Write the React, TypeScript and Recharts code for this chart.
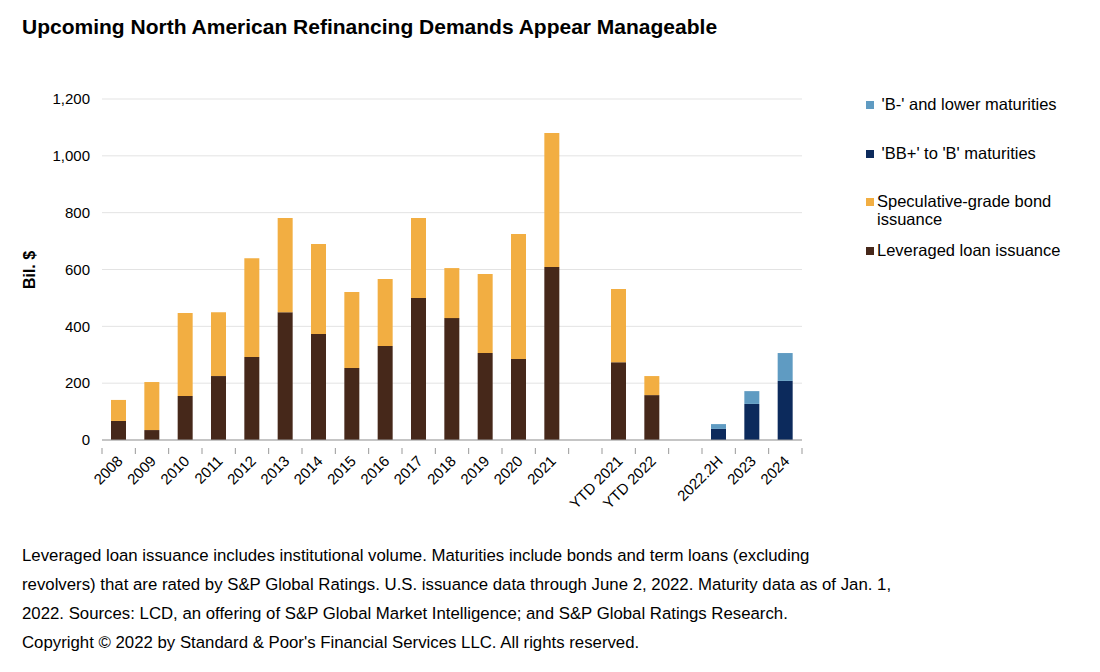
import React from 'react';
import { BarChart, Bar, XAxis, YAxis, CartesianGrid } from 'recharts';

const categories = ['2008','2009','2010','2011','2012','2013','2014','2015','2016','2017','2018','2019','2020','2021',' ','YTD 2021','YTD 2022','  ','2022.2H','2023','2024'];
const loanIssuance = [67,35,155,225,292,450,373,253,331,500,429,306,285,609,null,274,158,null,null,null,null];
const bondTotal = [141,204,447,450,640,781,690,521,567,781,605,584,725,1080,null,531,225,null,null,null,null];
const bbToB = [null,null,null,null,null,null,null,null,null,null,null,null,null,null,null,null,null,null,39,127,208];
const bMinusTotal = [null,null,null,null,null,null,null,null,null,null,null,null,null,null,null,null,null,null,56,172,306];
const yTicks = [0,200,400,600,800,1000,1200];

const COLORS = { loan: '#46281a', bond: '#f2ae42', bb: '#0c2a5c', bminus: '#5f9bc2' };

const data = categories.map((c, i) => ({
  name: c,
  loan: loanIssuance[i],
  bond: bondTotal[i] != null && loanIssuance[i] != null ? (bondTotal[i] as number) - (loanIssuance[i] as number) : null,
  bb: bbToB[i],
  bminus: bMinusTotal[i] != null && bbToB[i] != null ? (bMinusTotal[i] as number) - (bbToB[i] as number) : null,
}));

const FONT = 'Arial, "Liberation Sans", Helvetica, sans-serif';
const BAND = 700 / categories.length;

const XTick = (props: any) => {
  const { x, y, payload, index } = props;
  const axisY = y;
  return (
    <g>
      <line x1={x - BAND / 2} y1={axisY} x2={x - BAND / 2} y2={axisY + 6} stroke="#999" strokeWidth={1} />
      {index === categories.length - 1 && (
        <line x1={x + BAND / 2} y1={axisY} x2={x + BAND / 2} y2={axisY + 6} stroke="#999" strokeWidth={1} />
      )}
      <text
        x={x + 5}
        y={axisY + 14}
        textAnchor="end"
        transform={`rotate(-45, ${x + 5}, ${axisY + 14})`}
        fontSize={15}
        fontFamily={FONT}
        fill="#000"
      >
        {payload.value.trim()}
      </text>
    </g>
  );
};

const legendItems = [
  { label: "\u00a0'B-' and lower maturities", color: COLORS.bminus, top: 95 },
  { label: "\u00a0'BB+' to 'B' maturities", color: COLORS.bb, top: 144 },
  { label: 'Speculative-grade bond\nissuance', color: COLORS.bond, top: 192 },
  { label: 'Leveraged loan issuance', color: COLORS.loan, top: 241 },
];

const footnote = [
  'Leveraged loan issuance includes institutional volume. Maturities include bonds and term loans (excluding',
  'revolvers) that are rated by S&P Global Ratings. U.S. issuance data through June 2, 2022. Maturity data as of Jan. 1,',
  '2022. Sources: LCD, an offering of S&P Global Market Intelligence; and S&P Global Ratings Research.',
  "Copyright \u00a9 2022 by Standard & Poor's Financial Services LLC. All rights reserved.",
];

export default function App() {
  return (
    <div style={{ position: 'absolute', left: 0, top: 0, width: 1100, height: 672, background: '#fff', fontFamily: FONT }}>
      <div style={{ position: 'absolute', left: 22, top: 15, fontSize: 21, fontWeight: 'bold', color: '#000', whiteSpace: 'nowrap' }}>
        Upcoming North American Refinancing Demands Appear Manageable
      </div>
      <div style={{ position: 'absolute', left: 30, top: 270, transform: 'translate(-50%, -50%) rotate(-90deg)', fontSize: 16, fontWeight: 'bold', color: '#000', whiteSpace: 'nowrap' }}>
        Bil. $
      </div>
      <div style={{ position: 'absolute', left: 0, top: 0 }}>
        <BarChart width={1100} height={672} data={data} margin={{ top: 99, right: 298, bottom: 132, left: 40 }} barSize={15}>
          <CartesianGrid vertical={false} stroke="#e3e3e3" strokeWidth={1} />
          <XAxis
            dataKey="name"
            interval={0}
            tickLine={false}
            axisLine={{ stroke: '#999' }}
            tick={<XTick />}
            height={100}
          />
          <YAxis
            width={62}
            domain={[0, 1200]}
            ticks={yTicks}
            axisLine={false}
            tickLine={false}
            tickSize={6}
            tickMargin={6}
            tick={{ fontSize: 15, fontFamily: FONT, fill: '#000' }}
            tickFormatter={(v: number) => v.toLocaleString('en-US')}
          />
          <Bar dataKey="loan" stackId="a" fill={COLORS.loan} isAnimationActive={false} />
          <Bar dataKey="bond" stackId="a" fill={COLORS.bond} isAnimationActive={false} />
          <Bar dataKey="bb" stackId="a" fill={COLORS.bb} isAnimationActive={false} />
          <Bar dataKey="bminus" stackId="a" fill={COLORS.bminus} isAnimationActive={false} />
        </BarChart>
      </div>
      {legendItems.map((it) => (
        <div key={it.label} style={{ position: 'absolute', left: 866, top: it.top, display: 'flex', alignItems: 'flex-start' }}>
          <div style={{ width: 8, height: 8, background: it.color, marginTop: 6, marginRight: 3 }} />
          <div style={{ fontSize: 16.5, color: '#000', lineHeight: '18px', whiteSpace: 'pre' }}>{it.label}</div>
        </div>
      ))}
      <div style={{ position: 'absolute', left: 22, top: 541, fontSize: 16.8, color: '#000', lineHeight: '29px' }}>
        {footnote.map((l) => (
          <div key={l} style={{ whiteSpace: 'nowrap', height: l.startsWith('Copyright') ? 27 : 29 }}>{l}</div>
        ))}
      </div>
    </div>
  );
}
